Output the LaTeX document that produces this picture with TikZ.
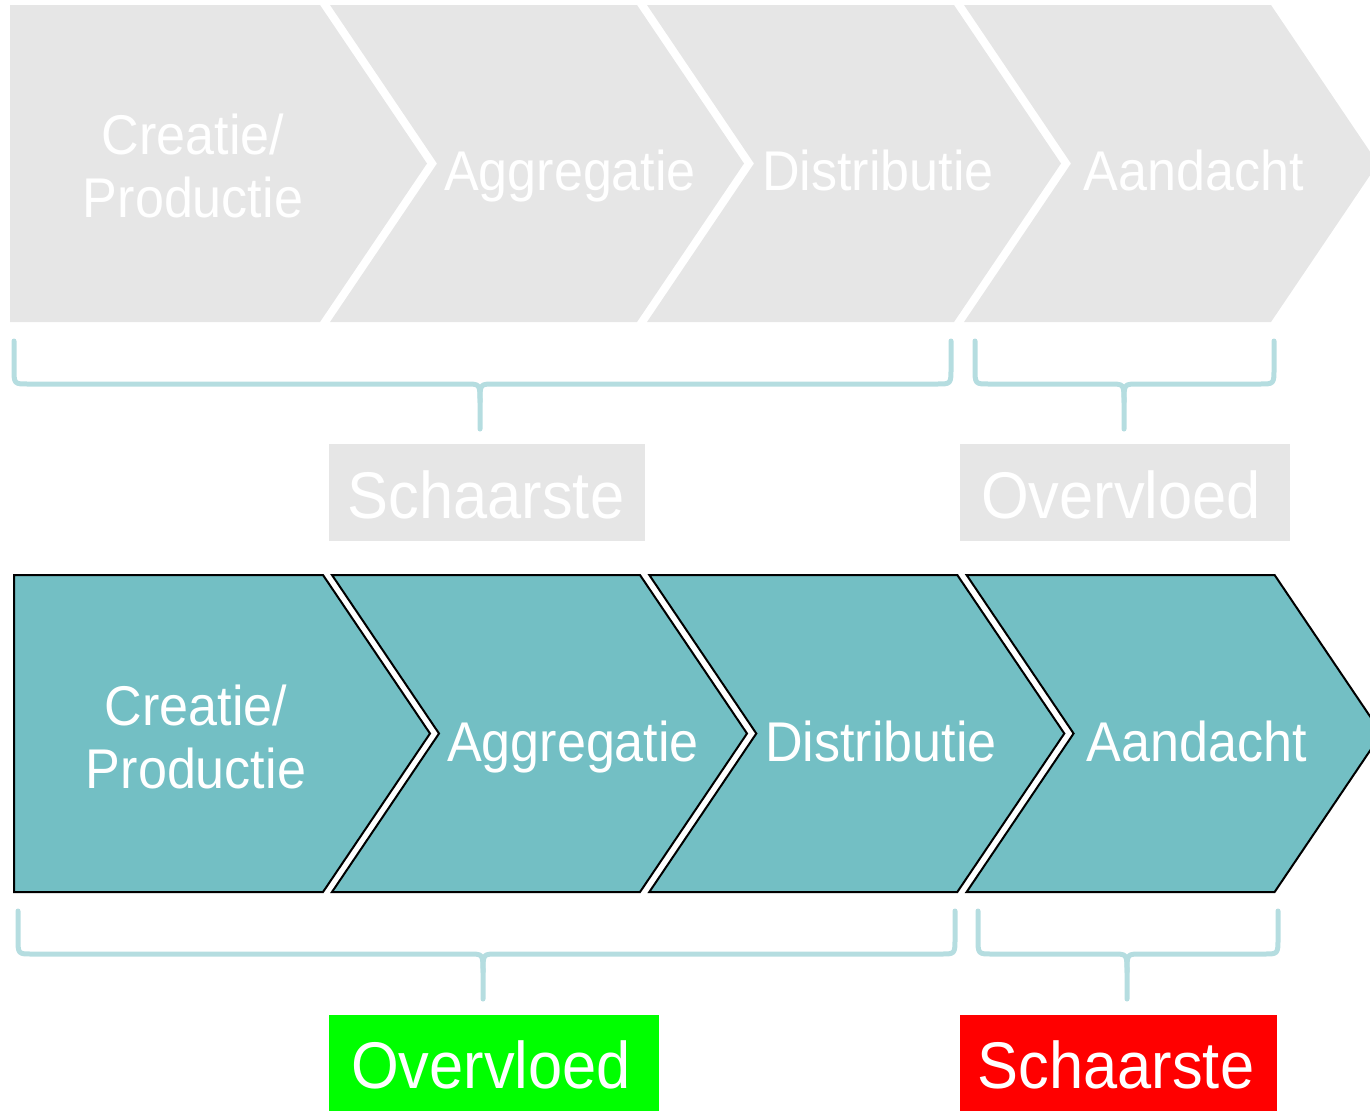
\documentclass[tikz,border=0pt]{standalone}
\usepackage{fontspec}
\setmainfont{Liberation Sans}[FakeStretch=0.93]
\definecolor{grayfill}{HTML}{E6E6E6}
\definecolor{tealfill}{HTML}{73BFC4}
\definecolor{bracecol}{HTML}{B5DDE0}
\definecolor{greenfill}{HTML}{00FF00}
\definecolor{redfill}{HTML}{FF0000}
\newcommand\mybrace[6]{%
  \draw[bracestyle] (#1,#4) -- (#1,#5-16) .. controls (#1,#5) .. (#1+14,#5) -- (#3-14,#5) .. controls (#3,#5) .. (#3,#5+18) -- (#3,#6);
  \draw[bracestyle] (#2,#4) -- (#2,#5-16) .. controls (#2,#5) .. (#2-14,#5) -- (#3+14,#5) .. controls (#3,#5) .. (#3,#5+18);
}
\begin{document}
\begin{tikzpicture}[x=1pt,y=-1pt,
  lbl/.style={text=white,font=\fontsize{56}{63}\selectfont,align=center,inner sep=0pt},
  boxlbl/.style={text=white,font=\fontsize{66}{70}\selectfont,inner sep=0pt},
  bracestyle/.style={draw=bracecol,line width=5pt,line cap=round,line join=round},
  topshape/.style={fill=grayfill},
  botshape/.style={fill=tealfill,draw=black,line width=2pt,line join=miter}]
\useasboundingbox (0,0) rectangle (1370,1114);
\clip (0,0) rectangle (1370,1114);

% top row
\fill[topshape] (10,5) -- (320,5) -- (427,163.5) -- (320,322) -- (10,322) -- cycle;
\foreach \i in {0,1,2}{
  \pgfmathsetmacro\L{330+317*\i}
  \fill[topshape] (\L,5) -- (\L+307,5) -- (\L+414,163.5) -- (\L+307,322) -- (\L,322) -- (\L+107,163.5) -- cycle;
}
\node[lbl] (tc) at (193,166) {Creatie/\\Productie};
\node[lbl,anchor=base] (ta) at (570,190) {Aggregatie};
\node[lbl,anchor=base] (td) at (878,190) {Distributie};
\node[lbl,anchor=base] (tn) at (1194,190) {Aandacht};

% top braces
\mybrace{14}{951}{480}{341}{384}{429}
\mybrace{975}{1274}{1124}{341}{384}{429}

% top labels
\fill[grayfill] (329,444) rectangle (645,541);
\node[boxlbl,anchor=base] (ts) at (486,518) {Schaarste};
\fill[grayfill] (960,444) rectangle (1290,541);
\node[boxlbl,anchor=base] (to) at (1121,518) {Overvloed};

% bottom row
\draw[botshape] (14,575) -- (323,575) -- (430,733.5) -- (323,892) -- (14,892) -- cycle;
\foreach \i in {0,1,2}{
  \pgfmathsetmacro\L{332+317.3*\i}
  \draw[botshape] (\L,575) -- (\L+308,575) -- (\L+415,733.5) -- (\L+308,892) -- (\L,892) -- (\L+107,733.5) -- cycle;
}
\node[lbl] (bc) at (196,737) {Creatie/\\Productie};
\node[lbl,anchor=base] (ba) at (573,761) {Aggregatie};
\node[lbl,anchor=base] (bd) at (881,761) {Distributie};
\node[lbl,anchor=base] (bn) at (1197,761) {Aandacht};

% bottom braces
\mybrace{18}{955}{483}{911}{954}{999}
\mybrace{978}{1278}{1127}{911}{954}{999}

% bottom labels
\fill[greenfill] (329,1015) rectangle (659,1111);
\node[boxlbl,anchor=base] (bo) at (491,1088) {Overvloed};
\fill[redfill] (960,1015) rectangle (1277,1111);
\node[boxlbl,anchor=base] (bs) at (1116,1088) {Schaarste};
\end{tikzpicture}
\end{document}
